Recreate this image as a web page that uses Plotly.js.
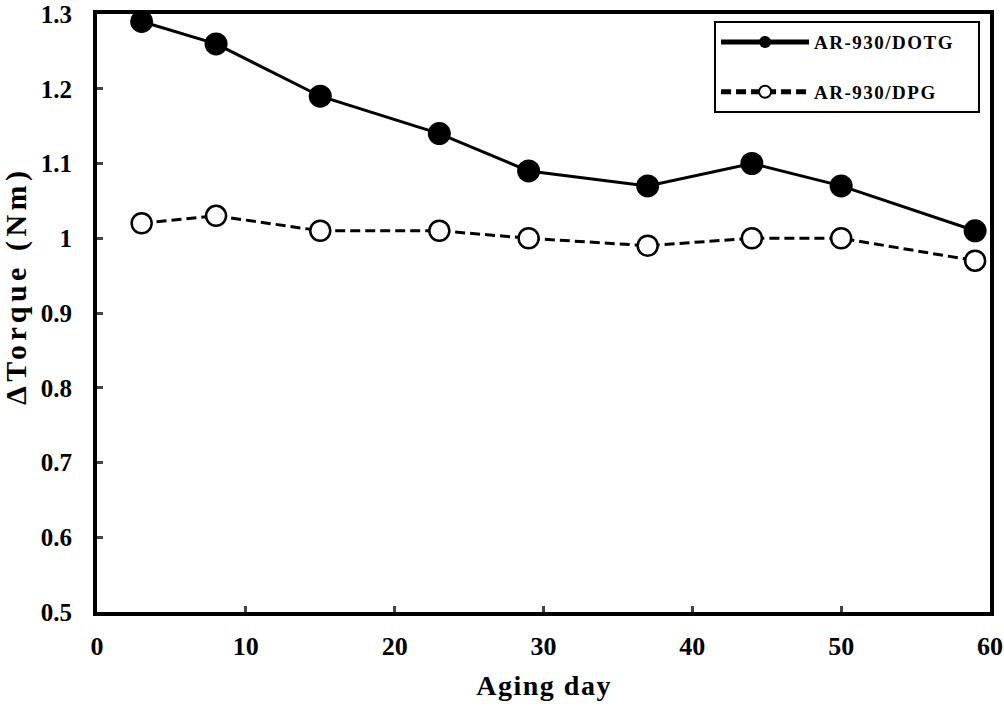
<!DOCTYPE html>
<html><head><meta charset="utf-8">
<script src="https://cdn.plot.ly/plotly-3.0.1.min.js"></script>
<style>
body{margin:0;padding:0;background:#fff}#c{width:1004px;height:706px}
.legendtext{letter-spacing:1.5px}
</style>
</head><body><div id="c"></div>
<script>
var agingDays = [3, 8, 15, 23, 29, 37, 44, 50, 59];
var dotgTorque = [1.29, 1.26, 1.19, 1.14, 1.09, 1.07, 1.10, 1.07, 1.01];
var dpgTorque = [1.02, 1.03, 1.01, 1.01, 1.00, 0.99, 1.00, 1.00, 0.97];
var xTicks = [0, 10, 20, 30, 40, 50, 60];
var yTicks = [0.5, 0.6, 0.7, 0.8, 0.9, 1, 1.1, 1.2, 1.3];
var yTickText = ['0.5','0.6','0.7','0.8','0.9','1','1.1','1.2','1.3'];
var seriesNames = ['AR-930/DOTG', 'AR-930/DPG'];
var xTitle = 'Aging day';
var yTitle = 'ΔTorque (Nm)';

var fam = '"Liberation Serif", "Times New Roman", serif';
var pad = '&nbsp;&nbsp;&nbsp;';
var traces = [
  {x: agingDays, y: dotgTorque, name: '<b>' + seriesNames[0] + '</b>' + pad, mode: 'lines+markers', legendgroup: 'a',
   line: {color: '#000', width: 3}, marker: {color: '#000', size: 23, line: {color: '#000', width: 0}}},
  {x: agingDays, y: dpgTorque, name: '<b>' + seriesNames[1] + '</b>' + pad, mode: 'lines+markers', legendgroup: 'b',
   line: {color: '#000', width: 3, dash: '10px,5px'},
   marker: {color: '#fff', size: 20, line: {color: '#000', width: 2.5}}}
];
var layout = {
  width: 1004, height: 706,
  margin: {l: 97, r: 14, t: 14, b: 94},
  paper_bgcolor: '#fff', plot_bgcolor: '#fff',
  font: {family: fam, color: '#000'},
  showlegend: true,
  legend: {x: 0.691, y: 0.988, xanchor: 'left', yanchor: 'top', bgcolor: '#fff',
    bordercolor: '#000', borderwidth: 2, font: {family: fam, size: 19, color: '#000'},
    itemsizing: 'constant', tracegroupgap: 22, itemwidth: 88},
  xaxis: {range: [0, 60], tickvals: xTicks, ticktext: xTicks.map(function(v){return '<b>' + v + '</b>';}),
    ticks: 'inside', ticklen: 6, tickwidth: 3, ticklabelstandoff: 8,
    showline: true, linecolor: '#000', linewidth: 4, mirror: true, showgrid: false, zeroline: false,
    tickfont: {family: fam, size: 26, color: '#000'}},
  yaxis: {range: [0.5, 1.3], tickvals: yTicks, ticktext: yTickText.map(function(v){return '<b>' + v + '</b>';}),
    ticks: 'inside', ticklen: 6, tickwidth: 3, ticklabelstandoff: 16, ticklabeloverflow: 'allow',
    showline: true, linecolor: '#000', linewidth: 4, mirror: true, showgrid: false, zeroline: false,
    tickfont: {family: fam, size: 25, color: '#000'}},
  annotations: [
    {text: '<b>' + xTitle + '</b>', xref: 'paper', yref: 'paper', x: 0.5, y: -0.123, xanchor: 'center', yanchor: 'middle',
     showarrow: false, font: {family: fam, size: 28, color: '#000'}},
    {text: '<b>' + yTitle + '</b>', xref: 'paper', yref: 'paper', x: -0.0907, y: 0.545, xanchor: 'center', yanchor: 'middle',
     textangle: -90, showarrow: false, font: {family: fam, size: 30, color: '#000'}}
  ]
};
Plotly.newPlot('c', traces, layout, {displayModeBar: false}).then(function(){
  var at = document.querySelectorAll('.annotation-text');
  if (at[0]) at[0].style.letterSpacing = '1.5px';
  if (at[1]) at[1].style.letterSpacing = '4.5px';
});
</script></body></html>
